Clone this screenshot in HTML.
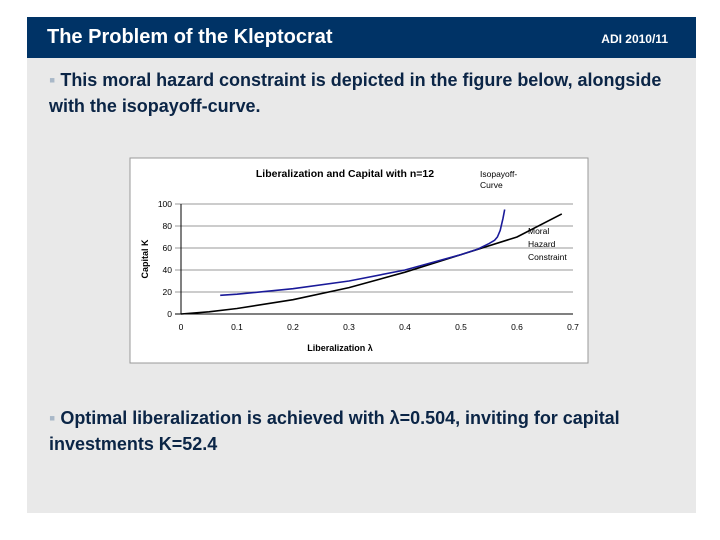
<!DOCTYPE html>
<html><head><meta charset="utf-8"><style>
body{margin:0;width:720px;height:540px;background:#fff;position:relative;overflow:hidden;font-family:"Liberation Sans",sans-serif}
.hdr{position:absolute;left:27px;top:17px;width:669px;height:41px;background:#003366;color:#fff}
.body{position:absolute;left:27px;top:58px;width:669px;height:455px;background:#e9e9e9}
.t{position:absolute;color:#0b2546;font-size:18px;line-height:26px;font-weight:bold;letter-spacing:-0.02px;white-space:nowrap}
.b{color:#a9b8c8}
</style></head><body>
<div class="hdr">
 <div style="position:absolute;left:20px;top:9px;font-size:20px;font-weight:bold">The Problem of the Kleptocrat</div>
 <div style="position:absolute;right:28px;top:15px;font-size:12px;font-weight:bold">ADI 2010/11</div>
</div>
<div class="body"></div>
<div class="t" style="left:49px;top:67px"><span class="b">▪</span> This moral hazard constraint is depicted in the figure below, alongside<br>with the isopayoff-curve.</div>
<div class="t" style="left:49px;top:405px"><span class="b">▪</span> Optimal liberalization is achieved with λ=0.504, inviting for capital<br>investments K=52.4</div>
<svg id="chart" style="position:absolute;left:0;top:0" width="720" height="540">
 <rect x="130" y="158" width="458" height="205" fill="#fff" stroke="#999"/>
 <text x="345" y="177" text-anchor="middle" font-size="10.5" font-weight="bold" font-family="Liberation Sans" fill="#000">Liberalization and Capital with n=12</text>
 <text x="480" y="177" font-size="8.5" font-family="Liberation Sans">Isopayoff-</text>
 <text x="480" y="188" font-size="8.5" font-family="Liberation Sans">Curve</text>
 <text x="528" y="234" font-size="8.5" font-family="Liberation Sans">Moral</text>
 <text x="528" y="247" font-size="8.5" font-family="Liberation Sans">Hazard</text>
 <text x="528" y="260" font-size="8.5" font-family="Liberation Sans">Constraint</text>
 <text x="340" y="351" text-anchor="middle" font-size="9" font-weight="bold" font-family="Liberation Sans">Liberalization λ</text>
 <text transform="translate(148,259) rotate(-90)" text-anchor="middle" font-size="9" font-weight="bold" font-family="Liberation Sans">Capital K</text>
 <g id="g"></g>
</svg>
<script>
const xTicks=[0,0.1,0.2,0.3,0.4,0.5,0.6,0.7];
const yTicks=[0,20,40,60,80,100];
const mhX=[0,0.05,0.1,0.2,0.3,0.4,0.5,0.6,0.68];
const mhK=[0,2,5,13,24,38,54,70,91];
const isoX=[0.07,0.1,0.2,0.3,0.4,0.5,0.53,0.55,0.56,0.565,0.57,0.575,0.578];
const isoK=[17,18,23,30,40,54,59,64,67,70,76,87,95];
const sx=v=>181+v*560, sy=v=>314-v*1.1;
const g=document.getElementById('g'),NS='http://www.w3.org/2000/svg';
function mk(t,a){const e=document.createElementNS(NS,t);for(const k in a)e.setAttribute(k,a[k]);g.appendChild(e);return e;}
yTicks.forEach(v=>{
 const l=mk('line',{x1:175,x2:573,y1:sy(v),y2:sy(v),stroke:v?'#999':'#000','stroke-width':1});
 
 
 const t=mk('text',{x:172,y:sy(v)+3,'text-anchor':'end','font-size':8.5,'font-family':'Liberation Sans'});t.textContent=v;
 
 
});
mk('line',{x1:181,x2:181,y1:sy(100),y2:sy(0),stroke:'#000'});
xTicks.forEach(v=>{
 const t=mk('text',{x:sx(v),y:330,'text-anchor':'middle','font-size':8.5,'font-family':'Liberation Sans'});t.textContent=v;
 
 
});
function line(xs,ys,c,n){const p=mk('polyline',{points:xs.map((x,i)=>sx(x)+','+sy(ys[i])).join(' '),fill:'none',stroke:c,'stroke-width':1.6});
 
 }
line(mhX,mhK,'#000','moral-hazard-line');
line(isoX,isoK,'#1a1a99','isopayoff-line');
</script>
</body></html>
